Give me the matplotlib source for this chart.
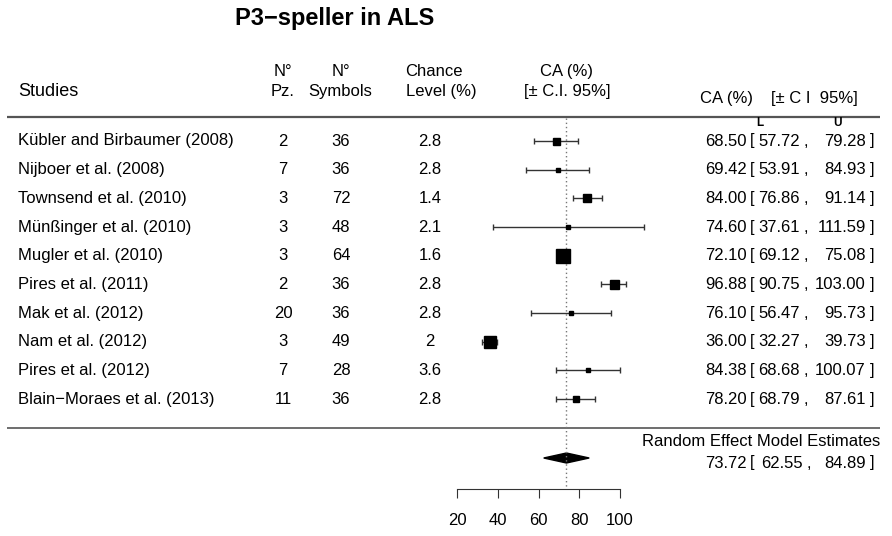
import numpy as np
import matplotlib.pyplot as plt

plt.rcParams['font.family'] = ['Liberation Sans', 'DejaVu Sans']

# --- data ---
studies = ['Kübler and Birbaumer (2008)', 'Nijboer et al. (2008)', 'Townsend et al. (2010)',
           'Münßinger et al. (2010)', 'Mugler et al. (2010)', 'Pires et al. (2011)',
           'Mak et al. (2012)', 'Nam et al. (2012)', 'Pires et al. (2012)',
           'Blain\u2212Moraes et al. (2013)']
n_pz = [2, 7, 3, 3, 3, 2, 20, 3, 7, 11]
n_symbols = [36, 36, 72, 48, 64, 36, 36, 49, 28, 36]
chance = ['2.8', '2.8', '1.4', '2.1', '1.6', '2.8', '2.8', '2', '3.6', '2.8']
ca = [68.50, 69.42, 84.00, 74.60, 72.10, 96.88, 76.10, 36.00, 84.38, 78.20]
ci_low = [57.72, 53.91, 76.86, 37.61, 69.12, 90.75, 56.47, 32.27, 68.68, 68.79]
ci_up = [79.28, 84.93, 91.14, 111.59, 75.08, 103.00, 95.73, 39.73, 100.07, 87.61]
weight = [7, 5, 8, 4, 14, 9, 5, 12, 5, 6]   # box size (px) ~ study weight
pooled, pooled_lo, pooled_up = 73.72, 62.55, 84.89
ticks = [20, 40, 60, 80, 100]

W, H = 892, 536
X0, XS = 457, 2.0375      # px of 20 and px per unit
Y0, YS = 141, 28.67       # px of first row and px per row

fig = plt.figure(figsize=(W / 100, H / 100), dpi=100)
ax = fig.add_axes([0, 0, 1, 1])
ax.set_xlim(20 - X0 / XS, 20 + (W - X0) / XS)
ax.set_ylim((H - Y0) / YS, -Y0 / YS)
ax.patch.set_alpha(0)


def px2x(px):
    return 20 + (px - X0) / XS


def py2y(py):
    return (py - Y0) / YS


def txt(px, py, s, **kw):
    kw.setdefault('fontsize', 12)
    kw.setdefault('va', 'center')
    fig.text(px / W, 1 - py / H, s, **kw)


def ci_text(py, est, lo, up, lo_right=800, comma=806):
    txt(747, py, f'{est:.2f}', ha='right')
    txt(750, py, '[')
    txt(lo_right, py, f'{lo:.2f}', ha='right')
    txt(comma, py, ',', ha='center')
    txt(866, py, f'{up:.2f}', ha='right')
    txt(870, py, ']')


# title and headers
txt(335, 19, 'P3\u2212speller in ALS', fontsize=17, fontweight='bold', ha='center')
txt(18, 92, 'Studies', fontsize=13)
txt(283, 72, 'N°', ha='center')
txt(283, 92, 'Pz.', ha='center')
txt(341, 72, 'N°', ha='center')
txt(340, 92, 'Symbols', ha='center')
txt(434, 72, 'Chance', ha='center')
txt(441, 92, 'Level (%)', ha='center')
txt(567, 72, 'CA (%)', ha='center')
txt(567, 92, '[± C.I. 95%]', ha='center')
txt(726, 99, 'CA (%)', ha='center')
txt(814, 99, '[± C I  95%]', ha='center')
txt(760, 123, 'L', fontsize=8.5, fontweight='bold', ha='center')
txt(838, 123, 'U', fontsize=8.5, fontweight='bold', ha='center')

# separators
ax.hlines(py2y(117), px2x(7), px2x(880), color='#555555', lw=1.6)
ax.hlines(py2y(428), px2x(7), px2x(880), color='#555555', lw=1.2)

# reference line at pooled estimate
ax.vlines(pooled, py2y(118), py2y(487), color='#777777', lw=1, linestyles=(0, (1, 2)))

# rows
for i in range(len(studies)):
    py = Y0 + i * YS
    txt(18, py, studies[i])
    txt(283, py, str(n_pz[i]), ha='center')
    txt(341, py, str(n_symbols[i]), ha='center')
    txt(430, py, chance[i], ha='center')
    ci_text(py, ca[i], ci_low[i], ci_up[i])

    ax.errorbar(ca[i], i, xerr=[[ca[i] - ci_low[i]], [ci_up[i] - ca[i]]],
                fmt='none', ecolor='#333333', elinewidth=1, capsize=2.2, capthick=1)
    ax.plot(ca[i], i, marker='s', color='black', ms=weight[i] * 0.72, ls='none')

# pooled estimate
yd = py2y(458)
hd = 5 / YS
ax.fill([pooled_lo, pooled, pooled_up, pooled], [yd, yd - hd, yd, yd + hd], color='black')
txt(880, 442, 'Random Effect Model Estimates', ha='right')
ci_text(463, pooled, pooled_lo, pooled_up, lo_right=803, comma=809)

# x axis
for s in ['top', 'left', 'right']:
    ax.spines[s].set_visible(False)
ax.spines['bottom'].set_position(('data', py2y(489)))
ax.spines['bottom'].set_bounds(ticks[0], ticks[-1])
ax.spines['bottom'].set_color('#333333')
ax.set_xticks(ticks)
ax.set_xticklabels([str(t) for t in ticks], fontsize=12)
ax.tick_params(axis='x', direction='out', length=6.5, pad=10.5, color='#333333')
ax.set_yticks([])

fig.savefig('out.png', dpi=100)
